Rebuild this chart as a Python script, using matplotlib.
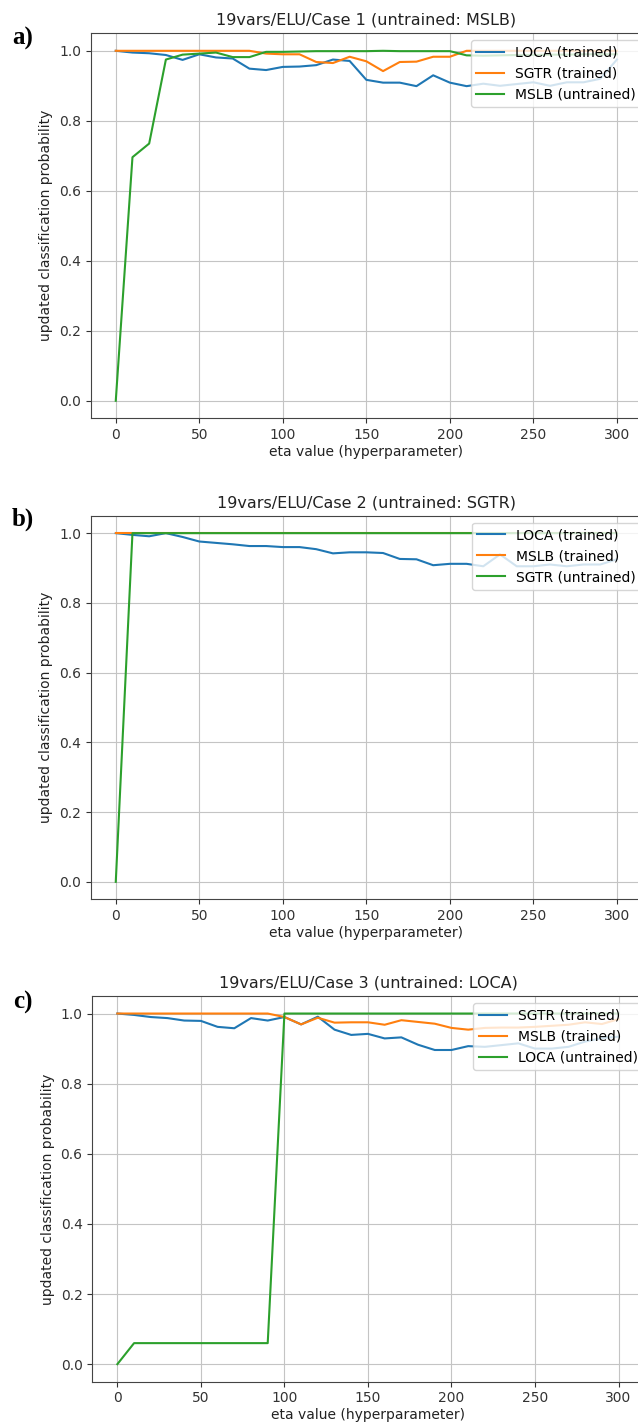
import matplotlib.pyplot as plt

eta = list(range(0, 301, 10))

# case 1 (untrained: MSLB)
c1_loca = [1.0, 0.995, 0.993, 0.988, 0.974, 0.99, 0.981, 0.978, 0.949, 0.945,
           0.954, 0.955, 0.959, 0.975, 0.971, 0.917, 0.909, 0.909, 0.899, 0.93,
           0.909, 0.899, 0.906, 0.90, 0.905, 0.91, 0.90, 0.91, 0.91, 0.92, 0.975]
c1_sgtr = [1.0, 1.0, 1.0, 1.0, 1.0, 1.0, 1.0, 1.0, 1.0, 0.992,
           0.99, 0.99, 0.968, 0.965, 0.983, 0.97, 0.942, 0.968, 0.969, 0.983,
           0.983, 1.0, 1.0, 1.0, 1.0, 1.0, 1.0, 1.0, 1.0, 1.0, 1.0]
c1_mslb = [0.0, 0.696, 0.735, 0.975, 0.989, 0.992, 0.995, 0.982, 0.982, 0.997,
           0.997, 0.998, 0.999, 0.999, 0.999, 0.999, 1.0, 0.999, 0.999, 0.999,
           0.999, 0.987, 0.986, 0.987, 0.988, 0.988, 0.989, 0.989, 0.99, 0.99, 0.99]

# case 2 (untrained: SGTR)
c2_loca = [1.0, 0.995, 0.991, 1.0, 0.989, 0.976, 0.972, 0.968, 0.963, 0.963,
           0.96, 0.96, 0.954, 0.942, 0.945, 0.945, 0.943, 0.926, 0.925, 0.908,
           0.912, 0.912, 0.905, 0.939, 0.905, 0.905, 0.91, 0.905, 0.91, 0.91, 0.925]
c2_mslb = [1.0] * 31
c2_sgtr = [0.0] + [1.0] * 30

# case 3 (untrained: LOCA)
c3_sgtr = [1.0, 0.996, 0.99, 0.987, 0.98, 0.979, 0.962, 0.958, 0.987, 0.98,
           0.99, 0.969, 0.991, 0.954, 0.939, 0.942, 0.929, 0.932, 0.911, 0.896,
           0.896, 0.907, 0.905, 0.91, 0.915, 0.90, 0.90, 0.905, 0.92, 0.93, 0.934]
c3_mslb = [1.0, 1.0, 1.0, 1.0, 1.0, 1.0, 1.0, 1.0, 1.0, 1.0,
           0.99, 0.969, 0.988, 0.974, 0.975, 0.975, 0.968, 0.981, 0.976, 0.971,
           0.959, 0.954, 0.959, 0.96, 0.96, 0.962, 0.965, 0.968, 0.975, 0.97, 0.984]
c3_loca = [0.0] + [0.06] * 9 + [1.0] * 21

panels = [
    ("a)", "19vars/ELU/Case 1 (untrained: MSLB)",
     [(c1_loca, "LOCA (trained)"), (c1_sgtr, "SGTR (trained)"), (c1_mslb, "MSLB (untrained)")]),
    ("b)", "19vars/ELU/Case 2 (untrained: SGTR)",
     [(c2_loca, "LOCA (trained)"), (c2_mslb, "MSLB (trained)"), (c2_sgtr, "SGTR (untrained)")]),
    ("c)", "19vars/ELU/Case 3 (untrained: LOCA)",
     [(c3_sgtr, "SGTR (trained)"), (c3_mslb, "MSLB (trained)"), (c3_loca, "LOCA (untrained)")]),
]

# axes boxes in pixels (left, top, right, bottom) - right side runs off the figure
boxes = [(90.7, 33.3, 642, 418.3), (90.7, 515.7, 642, 899.3), (92.3, 996, 643.6, 1381.7)]
label_y = [38, 519, 1002]

W, H = 638, 1423
fig = plt.figure(figsize=(W / 100, H / 100), dpi=100)

for (tag, title, series), (l, t, r, b), ly in zip(panels, boxes, label_y):
    ax = fig.add_axes([l / W, 1 - b / H, (r - l) / W, (b - t) / H])
    for vals, name in series:
        ax.plot(eta, vals, label=name, lw=1.5)
    ax.set_xlim(-15, 315)
    ax.set_ylim(-0.05, 1.05)
    ax.set_yticks([0.0, 0.2, 0.4, 0.6, 0.8, 1.0])
    ax.grid(True, color="#c4c4c4")
    for s in ax.spines.values():
        s.set_color("#444444")
    ax.tick_params(labelsize=10, colors="#333333")
    ax.set_title(title, fontsize=11.5, color="#222222")
    ax.set_xlabel("eta value (hyperparameter)", fontsize=10, labelpad=2, color="#222222")
    ax.set_ylabel("updated classification probability", fontsize=10, color="#222222")
    ax.legend(loc="upper right", fontsize=10, bbox_to_anchor=(1.012, 1.0))
    fig.text(23 / W, 1 - ly / H, tag, ha="center", va="center",
             fontsize=18, fontweight="bold", family="Liberation Serif")

fig.savefig("out.png", dpi=100)
